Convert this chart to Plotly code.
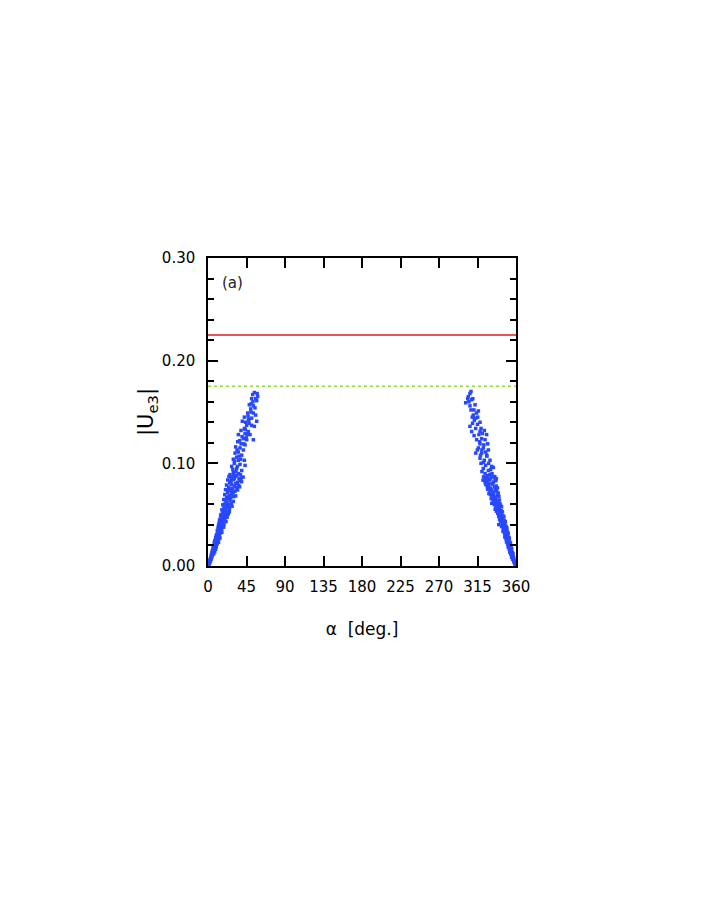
import plotly.graph_objects as go

# |Ue3| vs alpha scatter as (alpha [deg], |Ue3|)
left_upper = [
    (54.2, 0.169), (52.2, 0.167), (58.1, 0.165), (51.0, 0.163), (56.9, 0.161),
    (48.3, 0.157), (53.0, 0.156), (54.9, 0.154), (49.9, 0.153), (46.4, 0.149),
    (53.0, 0.149), (55.7, 0.147), (42.5, 0.145), (51.0, 0.144), (56.9, 0.141),
    (47.1, 0.142), (40.1, 0.141), (45.2, 0.137), (51.0, 0.137), (54.2, 0.136),
    (42.5, 0.134), (38.6, 0.132), (47.1, 0.131), (43.3, 0.129), (35.5, 0.128),
    (49.1, 0.128), (41.3, 0.124), (45.2, 0.123), (53.0, 0.123), (34.7, 0.121),
    (38.6, 0.119), (43.3, 0.118), (32.3, 0.116), (37.4, 0.115), (41.3, 0.113),
    (35.5, 0.111), (31.6, 0.110), (39.4, 0.108), (33.5, 0.106), (29.6, 0.104),
    (35.5, 0.103), (42.5, 0.103), (30.8, 0.100), (37.4, 0.099), (43.3, 0.098),
    (27.7, 0.097), (33.5, 0.095), (39.4, 0.093), (29.6, 0.091), (35.5, 0.090),
    (25.7, 0.089), (31.6, 0.087), (27.7, 0.085),
    (44.0, 0.140), (46.8, 0.146), (50.2, 0.150), (48.0, 0.139), (43.5, 0.133),
    (39.8, 0.126), (37.0, 0.122), (41.8, 0.119), (46.0, 0.128), (33.9, 0.113),
    (36.3, 0.107), (38.2, 0.104), (31.0, 0.102), (34.4, 0.097), (29.0, 0.094),
    (32.7, 0.092), (37.9, 0.089), (27.0, 0.087), (30.1, 0.089), (52.5, 0.160),
    (50.6, 0.158), (55.8, 0.163), (57.5, 0.168), (47.8, 0.143), (44.6, 0.125),
]

left_lower = [
    (24.5, 0.0872), (28.3, 0.0861), (33.6, 0.0879), (38.9, 0.0858), (41.0, 0.0866), (30.7, 0.0853), (36.2, 0.0849),
    (23.1, 0.0838), (26.9, 0.0827), (29.8, 0.0842), (34.5, 0.0815), (37.6, 0.0833), (32.0, 0.0804), (25.4, 0.0811), (39.2, 0.0821),
    (21.7, 0.0789), (27.3, 0.0795), (30.9, 0.0778), (35.8, 0.0784), (24.2, 0.0768), (28.6, 0.0757), (33.1, 0.0762), (37.0, 0.0771),
    (20.5, 0.0744), (23.8, 0.0736), (26.0, 0.0749), (31.4, 0.0728), (34.6, 0.0741), (22.9, 0.0716), (29.2, 0.0712), (27.5, 0.0723),
    (19.6, 0.0695), (24.7, 0.0688), (28.0, 0.0697), (32.3, 0.0683), (21.8, 0.0671), (26.4, 0.0664), (30.1, 0.0676), (23.3, 0.0658),
    (18.4, 0.0647), (20.9, 0.0638), (25.6, 0.0641), (29.5, 0.0629), (22.1, 0.0619), (27.2, 0.0612), (19.8, 0.0605), (24.0, 0.0601),
    (17.3, 0.0596), (21.5, 0.0588), (26.5, 0.0592), (23.0, 0.0573), (18.7, 0.0567), (25.1, 0.0559), (20.2, 0.0552), (28.1, 0.0581),
    (16.2, 0.0547), (19.4, 0.0541), (22.6, 0.0536), (24.9, 0.0528), (17.5, 0.0519), (21.0, 0.0512), (15.6, 0.0503), (23.7, 0.0506),
    (14.8, 0.0494), (18.0, 0.0489), (20.7, 0.0482), (16.3, 0.0471), (22.4, 0.0476), (19.1, 0.0463), (14.2, 0.0458), (17.4, 0.0452),
    (13.5, 0.0446), (15.9, 0.0439), (19.8, 0.0443), (17.2, 0.0427), (12.9, 0.0418), (15.1, 0.0411), (18.6, 0.0405), (21.0, 0.0432),
    (12.3, 0.0396), (14.6, 0.0391), (16.9, 0.0385), (11.8, 0.0372), (13.9, 0.0367), (16.0, 0.0361), (18.3, 0.0378), (12.6, 0.0354),
    (10.9, 0.0347), (13.4, 0.0342), (15.3, 0.0336), (11.7, 0.0324), (14.1, 0.0318), (10.3, 0.0309), (12.5, 0.0303), (16.2, 0.0328),
    (9.6, 0.0296), (11.4, 0.0291), (13.2, 0.0284), (8.9, 0.0276), (10.7, 0.0269), (12.4, 0.0263), (9.8, 0.0255), (14.0, 0.0272),
    (7.9, 0.0247), (9.9, 0.0241), (11.6, 0.0236), (7.3, 0.0226), (9.1, 0.0219), (10.6, 0.0213), (8.2, 0.0205), (12.3, 0.0231),
    (6.6, 0.0196), (8.4, 0.0191), (9.6, 0.0184), (6.0, 0.0177), (7.6, 0.0170), (8.9, 0.0163), (5.5, 0.0158), (6.9, 0.0152),
    (5.1, 0.0146), (6.4, 0.0141), (7.8, 0.0137), (4.6, 0.0129), (5.8, 0.0122), (4.1, 0.0114), (6.6, 0.0118), (5.0, 0.0106),
    (3.7, 0.0097), (4.5, 0.0091), (3.2, 0.0084), (4.0, 0.0078), (2.8, 0.0071), (3.5, 0.0065), (2.3, 0.0058), (2.9, 0.0052),
    (1.9, 0.0046), (2.3, 0.0041), (1.5, 0.0036), (1.9, 0.0031), (1.1, 0.0026), (1.4, 0.0021), (0.8, 0.0016), (0.6, 0.0011),
    (0.3, 0.0006), (0.1, 0.0002),
]

right_upper = [
    (307.4, 0.170), (306.2, 0.168), (304.3, 0.165), (308.2, 0.162), (301.2, 0.159),
    (306.2, 0.156), (312.1, 0.157), (307.4, 0.152), (316.0, 0.151), (310.1, 0.147),
    (312.9, 0.144), (315.2, 0.145), (311.3, 0.142), (306.2, 0.136), (312.9, 0.134),
    (319.1, 0.134), (323.0, 0.132), (308.2, 0.131), (316.7, 0.128), (325.7, 0.128),
    (319.9, 0.124), (314.0, 0.123), (323.8, 0.123), (317.9, 0.119), (326.9, 0.119),
    (316.0, 0.115), (321.8, 0.115), (327.7, 0.113), (312.9, 0.110), (319.9, 0.110),
    (325.7, 0.108), (317.9, 0.105), (323.0, 0.103), (329.6, 0.103), (319.1, 0.100),
    (324.5, 0.098), (331.6, 0.097), (321.8, 0.095), (327.7, 0.093), (333.5, 0.096),
    (323.8, 0.090), (329.6, 0.089), (325.7, 0.086), (333.5, 0.087), (335.5, 0.085),
    (309.5, 0.163), (305.0, 0.160), (310.8, 0.152), (313.9, 0.149), (309.2, 0.139),
    (315.0, 0.138), (318.0, 0.140), (311.0, 0.127), (320.8, 0.129), (317.5, 0.121),
    (322.4, 0.118), (314.8, 0.113), (320.1, 0.113), (326.0, 0.107), (318.5, 0.108),
    (322.0, 0.101), (328.0, 0.100), (330.3, 0.094), (320.2, 0.092), (326.5, 0.088),
    (332.0, 0.090), (318.0, 0.131), (303.5, 0.163), (308.9, 0.145), (324.6, 0.111),
]

right_lower = [
    (322.1, 0.0868), (326.4, 0.0877), (330.8, 0.0859), (335.2, 0.0871), (337.0, 0.0851), (324.0, 0.0849), (328.9, 0.0846),
    (321.5, 0.0836), (325.7, 0.0829), (329.3, 0.0840), (333.6, 0.0818), (336.5, 0.0831), (327.8, 0.0807), (331.9, 0.0802), (323.9, 0.0813),
    (324.8, 0.0792), (328.2, 0.0786), (332.7, 0.0797), (336.9, 0.0779), (326.5, 0.0764), (330.4, 0.0758), (334.8, 0.0769), (338.3, 0.0761),
    (327.1, 0.0746), (331.5, 0.0739), (335.9, 0.0743), (329.6, 0.0724), (333.3, 0.0718), (337.4, 0.0729), (339.2, 0.0711), (328.4, 0.0705),
    (330.2, 0.0694), (334.0, 0.0687), (338.1, 0.0691), (332.2, 0.0673), (336.2, 0.0666), (340.0, 0.0679), (331.0, 0.0657), (334.9, 0.0652),
    (332.9, 0.0646), (336.8, 0.0639), (340.6, 0.0643), (334.3, 0.0624), (338.5, 0.0618), (331.7, 0.0611), (341.2, 0.0606), (336.0, 0.0602),
    (334.7, 0.0597), (338.8, 0.0586), (342.0, 0.0591), (336.6, 0.0574), (340.4, 0.0568), (343.1, 0.0577), (337.9, 0.0556), (335.6, 0.0553),
    (339.3, 0.0546), (342.7, 0.0539), (337.2, 0.0533), (341.0, 0.0522), (344.1, 0.0527), (338.6, 0.0512), (342.3, 0.0506), (340.0, 0.0502),
    (341.5, 0.0496), (344.8, 0.0489), (339.8, 0.0483), (343.3, 0.0472), (345.9, 0.0478), (341.9, 0.0464), (344.4, 0.0457), (340.8, 0.0452),
    (343.6, 0.0447), (346.4, 0.0441), (342.1, 0.0436), (345.2, 0.0425), (347.5, 0.0431), (343.9, 0.0414), (346.6, 0.0408), (339.9, 0.0403),
    (344.9, 0.0397), (347.9, 0.0391), (343.2, 0.0384), (346.1, 0.0374), (348.7, 0.0379), (345.0, 0.0363), (347.6, 0.0357), (349.4, 0.0368),
    (346.4, 0.0347), (349.2, 0.0342), (344.8, 0.0336), (347.8, 0.0325), (350.1, 0.0329), (346.7, 0.0314), (349.0, 0.0307), (350.8, 0.0318),
    (348.0, 0.0296), (350.5, 0.0289), (346.9, 0.0283), (349.5, 0.0274), (351.6, 0.0278), (348.3, 0.0263), (350.7, 0.0257), (352.2, 0.0268),
    (349.6, 0.0247), (351.9, 0.0241), (348.9, 0.0234), (351.0, 0.0225), (353.0, 0.0229), (350.2, 0.0214), (352.4, 0.0208), (353.6, 0.0219),
    (351.3, 0.0196), (353.3, 0.0190), (350.9, 0.0184), (352.6, 0.0174), (354.3, 0.0179), (352.1, 0.0163), (354.0, 0.0157), (355.0, 0.0168),
    (353.2, 0.0146), (354.9, 0.0140), (352.8, 0.0134), (354.5, 0.0124), (355.8, 0.0129), (354.0, 0.0113), (355.5, 0.0107), (356.5, 0.0118),
    (355.2, 0.0097), (356.6, 0.0091), (354.9, 0.0085), (356.3, 0.0076), (357.3, 0.0080), (356.0, 0.0066), (357.1, 0.0059), (357.9, 0.0053),
    (357.4, 0.0047), (358.3, 0.0042), (357.9, 0.0036), (358.7, 0.0030), (358.5, 0.0025), (359.1, 0.0020), (359.3, 0.0014), (359.6, 0.0010),
    (359.8, 0.0005), (359.95, 0.0002),
]

red_level = 0.225     # solid red line
green_level = 0.175   # dotted green line
x_ticks = [0, 45, 90, 135, 180, 225, 270, 315, 360]

pts = left_upper + left_lower + right_upper + right_lower
alpha = [p[0] for p in pts]
ue3 = [p[1] for p in pts]

fig = go.Figure()

fig.add_trace(go.Scatter(
    x=[0, 360], y=[red_level, red_level], mode="lines",
    line=dict(color="#d81e1e", width=1.5), hoverinfo="skip"))
fig.add_trace(go.Scatter(
    x=[0, 360], y=[green_level, green_level], mode="lines",
    line=dict(color="#8cdc40", width=1.5, dash="dot"), hoverinfo="skip"))
fig.add_trace(go.Scatter(
    x=alpha, y=ue3, mode="markers",
    marker=dict(symbol="square", size=3.5, color="#2848ff", line=dict(width=0))))

fig.add_annotation(x=29, y=0.276, text="(a)", showarrow=False,
                   font=dict(size=15, color="#222"))

axis_common = dict(
    showline=True, linecolor="black", linewidth=1.5, mirror="allticks",
    ticks="inside", tickcolor="black", tickwidth=1.5, ticklen=10,
    showgrid=False, zeroline=False,
    tickfont=dict(family="DejaVu Sans", size=15, color="black"),
)

fig.update_xaxes(
    range=[0, 360], tickvals=x_ticks, ticklabelstandoff=6,
    title=dict(text="α  [deg.]", font=dict(family="DejaVu Sans", size=17, color="black"),
               standoff=28),
    **axis_common)
fig.update_yaxes(
    range=[0, 0.30], dtick=0.1, tickformat=".2f", ticklabelstandoff=8,
    minor=dict(dtick=0.02, ticks="inside", ticklen=6, tickcolor="black", tickwidth=1.5),
    title=dict(text="|U<sub>e3</sub>|", font=dict(family="DejaVu Sans", size=21, color="black"),
               standoff=2),
    **axis_common)

# page body adds an 8px margin, so the plot box is shifted up/left by 8px
fig.update_layout(
    width=708, height=917,
    margin=dict(l=200, r=200, t=250, b=359),
    plot_bgcolor="white", paper_bgcolor="white",
    showlegend=False,
    font=dict(family="DejaVu Sans", color="black"),
)

fig.write_html("out.html")
